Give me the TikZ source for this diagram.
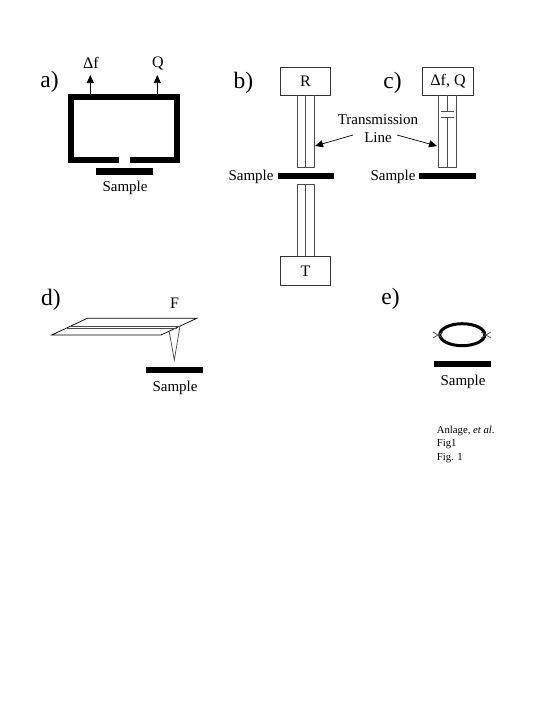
\documentclass[tikz,border=0pt]{standalone}
\usepackage{fontspec}
\setmainfont{Liberation Serif}
\usetikzlibrary{arrows.meta,shapes.geometric}
\tikzset{
  thin line/.style={draw=black!70,line width=0.75pt},
  bar/.style={fill=black,draw=none,inner sep=0pt,minimum width=56.5pt,minimum height=6.2pt},
  labeltext/.style={inner sep=0pt,font=\fontsize{15}{17}\selectfont},
  panel/.style={inner sep=0pt,font=\fontsize{23.5}{26}\selectfont},
  boxed/.style={draw=black!80,line width=0.75pt,inner sep=0pt,minimum height=27.7pt,font=\fontsize{16}{18}\selectfont},
  note/.style={inner sep=0pt,anchor=base west,font=\fontsize{10.7}{12}\selectfont},
  arrowline/.style={draw=black,line width=0.7pt,-{Triangle[length=8pt,width=7pt]}},
  resonator/.style={draw=black,line width=6pt},
}
\begin{document}
\begin{tikzpicture}[x=1pt,y=-1pt]
\useasboundingbox (0,0) rectangle (545,713);
% panel a
\node[panel] (la) at (49.5,81.5) {a)};
\coordinate (aGapL) at (119.4,159.7);
\coordinate (aGapR) at (129.6,159.7);
\coordinate (aTL) at (71.3,97.3);
\coordinate (aTR) at (177,97.3);
\draw[resonator,line cap=butt,line join=miter] (aGapL) -- (aTL |- aGapL) -- (aTL) -- (aTR) -- (aTR |- aGapR) -- (aGapR);
\node[labeltext,font=\fontsize{16}{18}\selectfont] (df) at (91,63) {Δf};
\node[labeltext,font=\fontsize{16}{18}\selectfont] (qa) at (158,63.5) {Q};
\coordinate (aS1) at (90.3,94.5);
\coordinate (aS2) at (157.3,94.5);
\coordinate (aE1) at (90.3,75);
\coordinate (aE2) at (157.3,75);
\draw[arrowline] (aS1) -- (aE1);
\draw[arrowline] (aS2) -- (aE2);
\node[bar] (sa) at (124.3,171.5) {};
\node[labeltext] (tsa) at (125,187.5) {Sample};
% panel b
\node[panel] (lb) at (243.5,82.5) {b)};
\node[boxed,minimum width=50.7pt] (R) at (305.4,81.2) {R};
\node[boxed,minimum width=50.7pt,minimum height=28.3pt] (T) at (305.4,270.8) {T};
\node[bar] (sb) at (305.8,176.2) {};
\node[labeltext] (tsb) at (251,176.5) {Sample};
\coordinate (b1a) at (297,167.7); \coordinate (b2a) at (305.7,167.7); \coordinate (b3a) at (314.3,167.7);
\coordinate (b1b) at (297,184.3); \coordinate (b2b) at (305.7,184.3); \coordinate (b3b) at (314.3,184.3);
\draw[thin line] (b1a |- R.south) -- (b1a) -- (b3a) -- (b3a |- R.south);
\draw[thin line] (b2a |- R.south) -- (b2a);
\draw[thin line] (b1b |- T.north) -- (b1b) -- (b3b) -- (b3b |- T.north);
\draw[thin line] (b2b |- T.north) -- (b2b);
% panel c
\node[panel] (lc) at (392.5,82.5) {c)};
\node[boxed,minimum width=50.7pt] (DQ) at (448,81.2) {Δf, Q};
\node[bar] (sc) at (447.5,176.2) {};
\node[labeltext] (tsc) at (393,176.5) {Sample};
\coordinate (c1) at (438.3,167.7); \coordinate (c2) at (447,167.7); \coordinate (c3) at (456,167.7);
\coordinate (cp1) at (447,111.7); \coordinate (cp2) at (447,117.3);
\draw[thin line] (c1 |- DQ.south) -- (c1) -- (c3) -- (c3 |- DQ.south);
\draw[thin line] (c2 |- DQ.south) -- (cp1);
\draw[thin line] (cp2) -- (c2);
\draw[thin line] ([xshift=-5.7pt]cp1) -- ([xshift=7pt]cp1);
\draw[thin line] ([xshift=-5.7pt]cp2) -- ([xshift=7pt]cp2);
% transmission line label
\node[labeltext,align=center] (tl) at (378,129) {Transmission\\[1.2pt]Line};
\coordinate (tlb) at (315,146);
\coordinate (tlc) at (437,146);
\coordinate (tlbs) at (353,135);
\coordinate (tlcs) at (397,135);
\draw[arrowline] (tlbs) -- (tlb);
\draw[arrowline] (tlcs) -- (tlc);
% panel d
\node[panel] (ld) at (51,299.5) {d)};
\node[labeltext,font=\fontsize{16}{18}\selectfont] (F) at (174.5,303) {F};
\coordinate (p1) at (51.7,335); \coordinate (p2) at (87.3,318.3);
\coordinate (p3) at (196.7,318.3); \coordinate (p4) at (161,335);
\draw[draw=black,line width=0.75pt,line join=miter] (p1) -- (p2) -- (p3) -- (p4) -- cycle;
\coordinate (m1) at (71,326); \coordinate (m2) at (180,326);
\coordinate (n1) at (67,328.3); \coordinate (n2) at (177,328.3);
\draw[thin line] (m1) -- (m2);
\draw[thin line] (n1) -- (n2);
\coordinate (tipa) at (169.3,332); \coordinate (tip) at (174.3,360); \coordinate (tipb) at (180,326);
\draw[thin line] (tipa) -- (tip) -- (tipb);
\node[bar] (sd) at (174.6,369.9) {};
\node[labeltext] (tsd) at (175,387.5) {Sample};
% panel e
\node[panel] (le) at (390.5,299) {e)};
\coordinate (loop) at (462.3,334.7);
\draw[draw=black,line width=3pt] (loop) ellipse [x radius=22.5pt,y radius=11pt];
\coordinate (xl) at (438,335); \coordinate (xr) at (486,335);
\draw[thin line] ([shift={(-5,-3)}]xl) -- ([shift={(5,3)}]xl);
\draw[thin line] ([shift={(-5,3)}]xl) -- ([shift={(5,-3)}]xl);
\draw[thin line] ([shift={(-5,-3)}]xr) -- ([shift={(5,3)}]xr);
\draw[thin line] ([shift={(-5,3)}]xr) -- ([shift={(5,-3)}]xr);
\node[bar] (se) at (462.6,364.3) {};
\node[labeltext] (tse) at (463,381.5) {Sample};
\node[note] (n1t) at (436.7,433) {Anlage, \textit{et al}.};
\node[note] (n2t) at (436.7,446.5) {Fig1};
\node[note] (n3t) at (436.7,460) {Fig. 1};
\end{tikzpicture}
\end{document}
